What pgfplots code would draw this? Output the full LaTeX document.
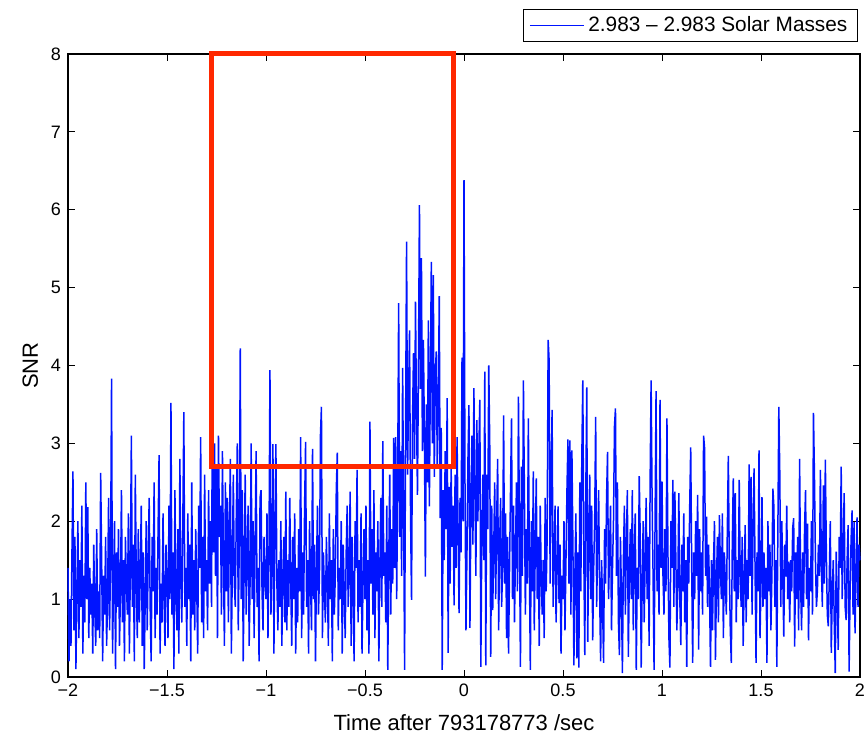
\documentclass[border=0pt]{standalone}
\usepackage{fontspec}
\setmainfont{Liberation Sans}
\usepackage{pgfplots}
\usepackage{pgfplotstable}
\pgfplotsset{compat=1.18}
\definecolor{mblue}{RGB}{0,20,255}
\definecolor{mred}{RGB}{255,40,0}
% SNR values, one every 0.005 s from -2 to 2 (801 samples)
\pgfplotstableread[row sep=\\, header=false]{
1.4\\ 0.2\\ 1.0\\ 0.4\\ 1.6\\ 2.64\\ 0.6\\ 1.8\\ 0.1\\ 1.1\\ 2.0\\ 0.5\\ 1.5\\ 0.9\\ 2.2\\ 0.3\\ 1.3\\ 0.7\\ 2.5\\ 1.0\\
2.18\\ 0.5\\ 1.4\\ 0.8\\ 1.2\\ 0.3\\ 1.7\\ 0.9\\ 0.4\\ 1.9\\ 0.6\\ 1.1\\ 0.5\\ 2.62\\ 1.5\\ 0.2\\ 1.3\\ 0.8\\ 1.8\\ 0.4\\
1.0\\ 2.3\\ 0.6\\ 1.5\\ 3.83\\ 0.3\\ 1.2\\ 2.0\\ 0.1\\ 1.6\\ 0.9\\ 1.9\\ 0.4\\ 1.1\\ 2.4\\ 0.7\\ 1.5\\ 0.2\\ 1.8\\ 1.2\\
0.8\\ 2.1\\ 0.3\\ 1.4\\ 3.1\\ 0.9\\ 1.7\\ 0.2\\ 2.6\\ 1.2\\ 0.5\\ 1.9\\ 0.7\\ 1.3\\ 2.2\\ 0.4\\ 1.6\\ 0.1\\ 1.0\\ 2.0\\
0.6\\ 1.5\\ 2.3\\ 0.9\\ 0.2\\ 1.8\\ 1.1\\ 2.5\\ 0.5\\ 1.4\\ 0.8\\ 1.9\\ 2.85\\ 0.3\\ 1.2\\ 0.7\\ 2.1\\ 1.0\\ 0.4\\ 1.7\\
1.3\\ 0.5\\ 2.2\\ 1.0\\ 3.52\\ 0.8\\ 1.6\\ 0.1\\ 2.4\\ 1.1\\ 0.6\\ 1.9\\ 0.3\\ 2.8\\ 1.2\\ 0.7\\ 2.0\\ 3.4\\ 0.9\\ 1.4\\
0.4\\ 2.1\\ 1.0\\ 1.7\\ 0.2\\ 2.5\\ 0.8\\ 1.5\\ 0.6\\ 1.9\\ 1.2\\ 0.3\\ 2.2\\ 1.4\\ 3.08\\ 0.7\\ 1.8\\ 0.5\\ 2.6\\ 1.1\\
1.5\\ 0.6\\ 2.4\\ 1.2\\ 2.0\\ 0.9\\ 4.22\\ 1.6\\ 3.0\\ 1.3\\ 2.7\\ 0.5\\ 3.1\\ 1.8\\ 2.2\\ 0.8\\ 2.9\\ 1.5\\ 0.4\\ 2.5\\
1.1\\ 2.3\\ 0.7\\ 1.9\\ 2.8\\ 0.3\\ 1.4\\ 2.6\\ 1.2\\ 0.9\\ 2.1\\ 3.0\\ 0.6\\ 1.7\\ 4.22\\ 1.0\\ 2.4\\ 0.2\\ 1.5\\ 2.6\\
0.8\\ 1.6\\ 2.2\\ 0.4\\ 1.3\\ 3.0\\ 1.0\\ 2.0\\ 0.5\\ 1.7\\ 2.9\\ 0.9\\ 1.4\\ 0.2\\ 2.3\\ 2.4\\ 1.1\\ 0.6\\ 1.8\\ 1.2\\
1.0\\ 2.1\\ 0.5\\ 1.6\\ 3.94\\ 0.8\\ 1.4\\ 2.99\\ 0.3\\ 1.9\\ 2.99\\ 1.2\\ 0.6\\ 1.5\\ 0.9\\ 2.0\\ 0.4\\ 1.3\\ 1.8\\ 0.7\\
2.38\\ 0.6\\ 1.5\\ 0.9\\ 2.3\\ 1.2\\ 0.4\\ 1.8\\ 1.0\\ 2.1\\ 0.3\\ 1.4\\ 0.7\\ 1.9\\ 1.1\\ 3.08\\ 0.5\\ 1.6\\ 0.8\\ 2.2\\
3.02\\ 0.9\\ 1.5\\ 0.3\\ 2.0\\ 1.2\\ 0.6\\ 2.93\\ 1.0\\ 1.7\\ 0.2\\ 1.4\\ 2.2\\ 0.8\\ 1.3\\ 3.1\\ 3.47\\ 0.5\\ 1.6\\ 1.1\\
0.7\\ 1.8\\ 1.2\\ 0.4\\ 2.1\\ 1.0\\ 1.5\\ 0.2\\ 1.9\\ 0.8\\ 1.3\\ 2.4\\ 2.88\\ 0.6\\ 1.4\\ 1.0\\ 2.0\\ 0.3\\ 1.7\\ 1.1\\
0.5\\ 1.6\\ 2.2\\ 0.9\\ 1.3\\ 2.38\\ 0.4\\ 1.8\\ 1.1\\ 0.2\\ 2.0\\ 1.4\\ 2.66\\ 0.7\\ 1.5\\ 0.9\\ 2.1\\ 0.3\\ 1.2\\ 1.9\\
1.0\\ 2.2\\ 0.6\\ 1.5\\ 0.3\\ 3.28\\ 1.2\\ 1.9\\ 0.8\\ 2.4\\ 0.5\\ 1.6\\ 1.1\\ 2.0\\ 0.2\\ 1.4\\ 2.3\\ 0.9\\ 3.03\\ 1.3\\
1.6\\ 0.7\\ 2.2\\ 0.09\\ 1.5\\ 2.6\\ 0.8\\ 1.9\\ 1.2\\ 3.07\\ 1.4\\ 3.08\\ 1.0\\ 2.5\\ 4.8\\ 1.8\\ 2.9\\ 1.3\\ 3.97\\ 2.2\\
0.09\\ 3.2\\ 5.59\\ 2.6\\ 3.6\\ 4.45\\ 2.1\\ 0.99\\ 3.3\\ 4.16\\ 2.8\\ 4.82\\ 3.4\\ 2.34\\ 4.0\\ 6.06\\ 3.7\\ 5.38\\ 2.9\\ 4.33\\
3.1\\ 1.29\\ 3.5\\ 2.5\\ 4.58\\ 2.19\\ 3.8\\ 5.33\\ 3.0\\ 5.16\\ 2.57\\ 3.9\\ 4.18\\ 2.7\\ 3.4\\ 4.89\\ 2.04\\ 3.2\\ 0.09\\ 2.4\\
1.5\\ 2.9\\ 1.9\\ 3.58\\ 0.31\\ 2.44\\ 1.2\\ 2.7\\ 1.67\\ 2.2\\ 0.92\\ 2.6\\ 1.4\\ 3.08\\ 1.9\\ 0.82\\ 2.3\\ 1.6\\ 4.1\\ 2.0\\
6.38\\ 2.5\\ 0.6\\ 1.59\\ 2.8\\ 3.49\\ 0.63\\ 2.2\\ 3.1\\ 1.7\\ 3.71\\ 2.4\\ 1.3\\ 3.3\\ 2.0\\ 2.9\\ 3.56\\ 0.13\\ 1.8\\ 2.6\\
1.5\\ 3.92\\ 0.15\\ 2.6\\ 1.9\\ 4.0\\ 3.0\\ 0.26\\ 2.2\\ 0.86\\ 1.6\\ 2.5\\ 1.0\\ 2.0\\ 2.8\\ 0.6\\ 1.7\\ 2.3\\ 0.9\\ 1.4\\
3.36\\ 1.2\\ 2.1\\ 0.5\\ 1.8\\ 0.3\\ 1.4\\ 2.4\\ 3.32\\ 1.0\\ 2.2\\ 0.7\\ 1.6\\ 2.5\\ 1.1\\ 3.6\\ 1.9\\ 0.13\\ 2.7\\ 1.3\\
3.81\\ 2.4\\ 0.8\\ 1.9\\ 1.2\\ 3.32\\ 1.5\\ 0.09\\ 2.0\\ 1.1\\ 2.64\\ 0.6\\ 1.7\\ 2.55\\ 1.0\\ 1.8\\ 0.4\\ 2.2\\ 1.3\\ 0.8\\
1.5\\ 0.5\\ 2.3\\ 1.1\\ 1.8\\ 4.33\\ 4.06\\ 1.2\\ 2.6\\ 3.43\\ 0.9\\ 1.6\\ 2.2\\ 0.7\\ 1.4\\ 2.19\\ 0.95\\ 1.7\\ 0.3\\ 1.3\\
1.0\\ 2.0\\ 0.6\\ 1.5\\ 2.4\\ 3.05\\ 1.2\\ 3.04\\ 0.8\\ 2.91\\ 1.7\\ 0.15\\ 1.3\\ 2.1\\ 0.24\\ 1.6\\ 0.12\\ 2.5\\ 1.1\\ 2.8\\
3.81\\ 1.6\\ 0.28\\ 2.3\\ 3.72\\ 0.45\\ 1.8\\ 2.6\\ 1.0\\ 2.2\\ 0.47\\ 1.4\\ 2.0\\ 3.34\\ 0.9\\ 1.7\\ 2.4\\ 1.1\\ 0.2\\ 1.5\\
0.9\\ 0.18\\ 1.9\\ 1.2\\ 2.3\\ 2.89\\ 1.0\\ 1.6\\ 2.2\\ 0.6\\ 1.4\\ 2.0\\ 3.22\\ 3.45\\ 1.3\\ 2.5\\ 0.7\\ 0.28\\ 1.8\\ 1.1\\
0.05\\ 1.5\\ 2.2\\ 0.8\\ 1.7\\ 2.4\\ 0.26\\ 1.3\\ 1.9\\ 1.0\\ 2.4\\ 0.6\\ 1.6\\ 2.1\\ 0.09\\ 1.4\\ 1.0\\ 2.58\\ 1.8\\ 0.12\\
1.2\\ 2.0\\ 0.7\\ 1.5\\ 2.3\\ 1.0\\ 1.8\\ 0.4\\ 2.5\\ 3.81\\ 2.27\\ 1.3\\ 0.09\\ 2.0\\ 3.67\\ 1.1\\ 1.7\\ 0.8\\ 3.56\\ 1.4\\
2.51\\ 1.3\\ 0.8\\ 1.9\\ 1.1\\ 3.32\\ 1.6\\ 0.5\\ 0.12\\ 2.0\\ 1.4\\ 2.53\\ 0.9\\ 2.38\\ 1.5\\ 0.6\\ 1.2\\ 2.36\\ 1.0\\ 0.41\\
1.7\\ 1.1\\ 2.1\\ 0.7\\ 1.5\\ 0.13\\ 1.8\\ 1.2\\ 2.2\\ 2.95\\ 1.4\\ 0.18\\ 1.6\\ 1.0\\ 2.0\\ 1.3\\ 2.34\\ 0.35\\ 1.9\\ 1.1\\
1.6\\ 0.8\\ 3.1\\ 2.94\\ 1.3\\ 2.06\\ 0.9\\ 1.7\\ 1.1\\ 0.13\\ 1.5\\ 0.6\\ 1.44\\ 2.0\\ 0.22\\ 1.2\\ 1.8\\ 0.7\\ 2.08\\ 1.4\\
1.0\\ 2.1\\ 0.5\\ 1.6\\ 1.2\\ 0.8\\ 1.9\\ 2.84\\ 1.4\\ 0.6\\ 0.18\\ 1.7\\ 2.55\\ 1.1\\ 2.36\\ 0.7\\ 1.5\\ 1.0\\ 2.53\\ 1.3\\
0.9\\ 1.8\\ 0.4\\ 1.2\\ 1.95\\ 0.7\\ 1.5\\ 1.0\\ 2.73\\ 1.3\\ 2.57\\ 0.8\\ 1.9\\ 2.68\\ 1.4\\ 0.18\\ 1.6\\ 1.1\\ 2.91\\ 0.5\\
1.2\\ 2.31\\ 0.9\\ 1.6\\ 1.0\\ 1.4\\ 0.18\\ 2.0\\ 1.1\\ 1.7\\ 0.6\\ 1.3\\ 2.42\\ 2.19\\ 0.9\\ 1.5\\ 0.13\\ 1.8\\ 3.47\\ 2.6\\
0.9\\ 2.0\\ 1.3\\ 0.52\\ 1.7\\ 1.29\\ 2.2\\ 1.0\\ 1.48\\ 0.7\\ 1.5\\ 1.1\\ 1.91\\ 2.04\\ 0.39\\ 1.6\\ 1.0\\ 1.8\\ 0.6\\ 2.8\\
1.2\\ 0.6\\ 1.6\\ 0.9\\ 1.9\\ 2.4\\ 1.0\\ 1.97\\ 0.47\\ 1.4\\ 1.1\\ 2.0\\ 0.8\\ 3.39\\ 2.57\\ 1.5\\ 0.9\\ 1.12\\ 1.7\\ 1.3\\
2.66\\ 1.4\\ 0.9\\ 2.46\\ 1.2\\ 2.79\\ 1.6\\ 0.8\\ 0.65\\ 1.3\\ 2.0\\ 0.31\\ 1.1\\ 1.5\\ 0.7\\ 0.05\\ 1.61\\ 1.0\\ 0.35\\ 1.8\\
1.4\\ 2.7\\ 1.0\\ 1.6\\ 2.36\\ 0.9\\ 0.73\\ 1.5\\ 1.95\\ 0.07\\ 1.1\\ 1.76\\ 2.14\\ 0.8\\ 1.99\\ 0.56\\ 1.3\\ 2.05\\ 0.9\\ 1.7\\ 1.5\\
}\snrdata
\begin{document}
\begin{tikzpicture}
\begin{axis}[
  name=ax,
  scale only axis,
  width=396pt, height=311.5pt,
  xmin=-2, xmax=2, ymin=0, ymax=8,
  xtick={-2,-1.5,-1,-0.5,0,0.5,1,1.5,2},
  xticklabels={−2,−1.5,−1,−0.5,0,0.5,1,1.5,2},
  ytick={0,1,2,3,4,5,6,7,8},
  tick align=inside,
  major tick length=3.5pt,
  tick style={black, line width=0.4pt},
  axis line style={black, line width=1pt},
  clip=false,
  /pgf/number format/assume math mode=true,
  ticklabel style={font=\fontsize{9}{10}\selectfont},
  xlabel={Time after 793178773 /sec},
  ylabel={SNR},
  label style={font=\fontsize{11}{13}\selectfont},
  xlabel style={at={(axis description cs:0.5,0)}, anchor=base, yshift=-27pt},
  ylabel style={at={(axis description cs:-0.0379,0.5)}, anchor=base},
  legend style={at={(1,1)}, anchor=south east, yshift=6pt, xshift=-1pt,
    draw=black, line width=0.6pt, fill=white,
    font=\fontsize{10.4}{12}\selectfont, inner xsep=3pt, inner ysep=1.5pt},
  legend cell align=left,
  legend image code/.code={\draw[mblue, line width=0.5pt] (0pt,0pt) -- (27pt,0pt);},
]
\addplot[mblue, line width=0.75pt, mark=none] table[x expr={-2+0.005*\coordindex}, y index=0] {\snrdata};
\addlegendentry{2.983 – 2.983 Solar Masses}
\draw[mred, line width=2.5pt] (axis cs:-1.275,2.7) rectangle (axis cs:-0.054,8);
\end{axis}
\pgfresetboundingbox
\path ([xshift=-34pt,yshift=-30.5pt]ax.south west) rectangle ([xshift=3.5pt,yshift=27pt]ax.north east);
\end{tikzpicture}
\end{document}
